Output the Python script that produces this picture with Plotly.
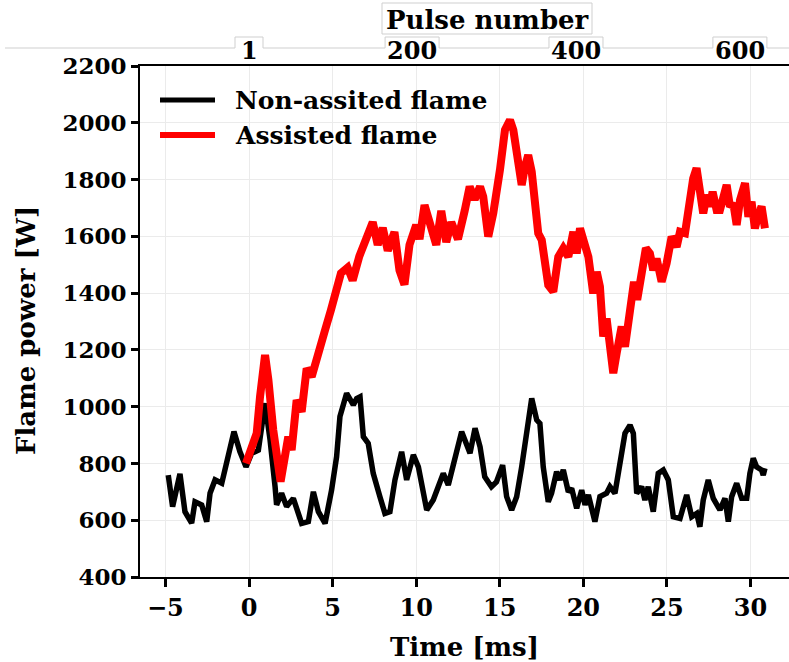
import plotly.graph_objects as go

# ---- data: flame power traces (time in ms, power in W) ----
t_non = [-4.83, -4.57, -4.13, -3.83, -3.43, -3.23, -2.83, -2.53, -2.33, -2.03,
         -1.63, -1.33, -0.90, -0.54, -0.18, 0.16, 0.56, 0.96, 1.26, 1.56,
         1.65, 1.95, 2.25, 2.65, 2.85, 3.15, 3.55, 3.85, 4.15, 4.55,
         4.94, 5.24, 5.44, 5.84, 6.24, 6.44, 6.64, 6.84, 7.13, 7.43,
         7.83, 8.13, 8.43, 8.73, 9.13, 9.43, 9.83, 10.13, 10.63, 11.02,
         11.32, 11.62, 11.92, 12.22, 12.72, 13.22, 13.52, 13.82, 14.10, 14.50,
         14.80, 15.17, 15.41, 15.71, 16.01, 16.31, 16.61, 16.91, 17.21, 17.40,
         17.60, 17.90, 18.10, 18.40, 18.60, 18.80, 19.10, 19.30, 19.60, 19.90,
         20.10, 20.30, 20.69, 20.99, 21.39, 21.59, 21.89, 22.19, 22.49, 22.79,
         22.99, 23.19, 23.49, 23.68, 23.88, 24.18, 24.48, 24.78, 25.08, 25.38,
         25.78, 26.18, 26.48, 26.78, 26.97, 27.17, 27.47, 27.77, 28.17, 28.47,
         28.67, 28.87, 29.17, 29.47, 29.77, 29.96, 30.16, 30.36, 30.66, 30.76,
         30.86]
p_non = [759, 648, 763, 630, 590, 665, 654, 595, 695, 742,
         730, 812, 912, 841, 788, 836, 847, 1012, 883, 718,
         654, 695, 648, 677, 642, 589, 595, 700, 630, 589,
         706, 824, 965, 1047, 1006, 1029, 1035, 894, 871, 765,
         683, 624, 630, 742, 841, 742, 830, 788, 636, 671,
         718, 765, 724, 800, 912, 836, 924, 859, 753, 718,
         735, 794, 683, 636, 683, 788, 918, 1029, 953, 941,
         788, 665, 695, 771, 742, 777, 700, 712, 642, 706,
         654, 689, 595, 683, 695, 718, 695, 788, 906, 935,
         906, 695, 718, 671, 718, 630, 765, 777, 742, 612,
         606, 689, 612, 624, 577, 671, 742, 677, 636, 677,
         595, 683, 730, 677, 677, 765, 818, 788, 777, 759,
         783]

t_ast = [-0.18, 0.16, 0.46, 0.66, 0.96, 1.16, 1.45, 1.89, 2.15, 2.35,
         2.55, 2.85, 3.15, 3.45, 3.75, 4.05, 4.35, 4.55, 4.90, 5.20,
         5.50, 5.90, 6.20, 6.60, 7.10, 7.40, 7.70, 8.00, 8.30, 8.70,
         9.00, 9.30, 9.60, 10.00, 10.20, 10.50, 10.80, 11.20, 11.50, 11.80,
         12.10, 12.50, 12.90, 13.20, 13.50, 13.82, 14.01, 14.31, 14.61, 14.81,
         15.01, 15.31, 15.61, 15.81, 16.05, 16.31, 16.51, 16.70, 16.91, 17.11,
         17.30, 17.51, 17.70, 17.90, 18.20, 18.50, 18.80, 19.10, 19.40, 19.60,
         19.80, 20.10, 20.30, 20.59, 20.80, 20.99, 21.19, 21.39, 21.69, 21.79,
         21.99, 22.29, 22.49, 22.79, 23.03, 23.22, 23.49, 23.74, 23.98, 24.18,
         24.38, 24.68, 24.98, 25.28, 25.58, 25.78, 26.08, 26.27, 26.57, 26.77,
         26.97, 27.17, 27.38, 27.57, 27.73, 27.97, 28.17, 28.37, 28.57, 28.77,
         28.97, 29.17, 29.37, 29.67, 29.87, 30.06, 30.26, 30.46, 30.66, 30.86]
p_ast = [800, 865, 906, 1035, 1182, 1094, 918, 736, 847, 894,
         847, 1023, 982, 1135, 1106, 1176, 1241, 1270, 1340, 1400,
         1470, 1490, 1445, 1530, 1610, 1650, 1570, 1630, 1550, 1615,
         1480, 1430, 1570, 1640, 1590, 1710, 1650, 1570, 1690, 1580,
         1650, 1590, 1690, 1775, 1730, 1775, 1740, 1599, 1681, 1740,
         1834, 1975, 2010, 1975, 1880, 1781, 1846, 1886, 1828, 1716,
         1611, 1587, 1481, 1428, 1405, 1528, 1558, 1528, 1616, 1540,
         1628, 1575, 1528, 1399, 1475, 1423, 1247, 1311, 1176, 1118,
         1188, 1282, 1211, 1329, 1440, 1376, 1470, 1558, 1540, 1481,
         1522, 1440, 1505, 1599, 1563, 1616, 1611, 1705, 1804, 1840,
         1763, 1681, 1746, 1705, 1757, 1693, 1693, 1734, 1781, 1705,
         1716, 1640, 1728, 1787, 1669, 1722, 1628, 1675, 1705, 1628]

series_names = ["Non-assited flame", "Assisted flame"]
series_colors = ["#000000", "#ff0000"]

# secondary (top) axis: pulse count at ~20.4 pulses per ms, pulse 1 at t = 0
pulse_ticks = [1, 200, 400, 600]
pulses_per_ms = 20.4

x_ticks = [-5, 0, 5, 10, 15, 20, 25, 30]
y_ticks = [400, 600, 800, 1000, 1200, 1400, 1600, 1800, 2000, 2200]
x_range = [-6.52, 32.3]

# ---- layout geometry (pixels) ----
FIG_W, FIG_H = 789, 662
M_L, M_R, M_T, M_B = 140, 0, 66, 85
PW = FIG_W - M_L - M_R
PH = FIG_H - M_T - M_B


def px_x(px):
    return (px - M_L) / PW


def px_y(py):
    return (M_T + PH - py) / PH


def t_to_px(t):
    return M_L + (t - x_range[0]) / (x_range[1] - x_range[0]) * PW


FONT = "DejaVu Serif"
FS_TICK = 24
FS_YTICK = 23
FS_TITLE = 26
FS_LEG = 25


def bold(size):
    return dict(family=FONT, size=size, color="black", weight="bold")


fig = go.Figure()
fig.add_trace(go.Scatter(x=t_non, y=p_non, mode="lines", name=series_names[0],
                         line=dict(color=series_colors[0], width=5.5),
                         showlegend=False))
fig.add_trace(go.Scatter(x=t_ast, y=p_ast, mode="lines", name=series_names[1],
                         line=dict(color=series_colors[1], width=8),
                         showlegend=False))

shapes = []
annotations = []

# legend drawn with long line samples
for i, (name, col) in enumerate(zip(series_names, series_colors)):
    yy = px_y(100 + 35 * i)
    shapes.append(dict(type="line", xref="paper", yref="paper",
                       x0=px_x(160), x1=px_x(215), y0=yy, y1=yy,
                       line=dict(color=col, width=5 if i == 0 else 6)))
    annotations.append(dict(text=name, xref="paper", yref="paper",
                            x=px_x(233), y=yy, xanchor="left", yanchor="middle",
                            showarrow=False, font=bold(FS_LEG)))

# top pulse-number scale: thin frame line with raised boxes around labels
line_y = 48
box_top = 37
grey = "#cfcfcf"
pulse_t = [(n - 1) / pulses_per_ms for n in pulse_ticks]
path = f"M {px_x(5)},{px_y(line_y)}"
for n, tt in zip(pulse_ticks, pulse_t):
    cx = t_to_px(tt)
    half = 14 if n < 10 else 27
    path += (f" L {px_x(cx - half)},{px_y(line_y)} L {px_x(cx - half)},{px_y(box_top)}"
             f" L {px_x(cx + half)},{px_y(box_top)} L {px_x(cx + half)},{px_y(line_y)}")
    annotations.append(dict(text=str(n), xref="x", yref="paper", x=tt, y=px_y(51),
                            xanchor="center", yanchor="middle", showarrow=False,
                            font=bold(FS_TICK)))
path += f" L {px_x(FIG_W)},{px_y(line_y)}"
shapes.append(dict(type="path", xref="paper", yref="paper", path=path,
                   line=dict(color=grey, width=1)))
shapes.append(dict(type="rect", xref="paper", yref="paper",
                   x0=px_x(382), x1=px_x(592), y0=px_y(34), y1=px_y(3),
                   line=dict(color=grey, width=1)))
annotations.append(dict(text="Pulse number", xref="paper", yref="paper",
                        x=px_x(487), y=px_y(20), xanchor="center", yanchor="middle",
                        showarrow=False, font=bold(FS_TITLE)))

# y-axis title
annotations.append(dict(text="Flame power [W]", xref="paper", yref="paper",
                        x=px_x(26), y=px_y(331), xanchor="center", yanchor="middle",
                        textangle=-90, showarrow=False, font=bold(FS_TITLE)))

fig.update_layout(
    width=FIG_W, height=FIG_H,
    margin=dict(l=M_L, r=M_R, t=M_T, b=M_B, autoexpand=False),
    paper_bgcolor="white", plot_bgcolor="white",
    shapes=shapes, annotations=annotations,
    font=dict(family=FONT, size=FS_TICK, color="black"),
)
fig.update_xaxes(range=x_range, tickvals=x_ticks,
                 ticktext=[str(v).replace("-", "\u2212") for v in x_ticks],
                 showgrid=True, gridcolor="#ebebeb", gridwidth=1,
                 showline=True, linecolor="black", linewidth=2, mirror=True,
                 ticks="outside", ticklen=8, tickwidth=3, tickcolor="black",
                 zeroline=False, tickfont=bold(FS_TICK),
                 title=dict(text="Time [ms]", standoff=17, font=bold(FS_TITLE)))
fig.update_yaxes(range=[400, 2200], tickvals=y_ticks,
                 showgrid=True, gridcolor="#ebebeb", gridwidth=1,
                 showline=True, linecolor="black", linewidth=2,
                 ticks="outside", ticklen=7, tickwidth=3, tickcolor="black",
                 zeroline=False, tickfont=bold(FS_YTICK))

fig.write_html("out.html")
